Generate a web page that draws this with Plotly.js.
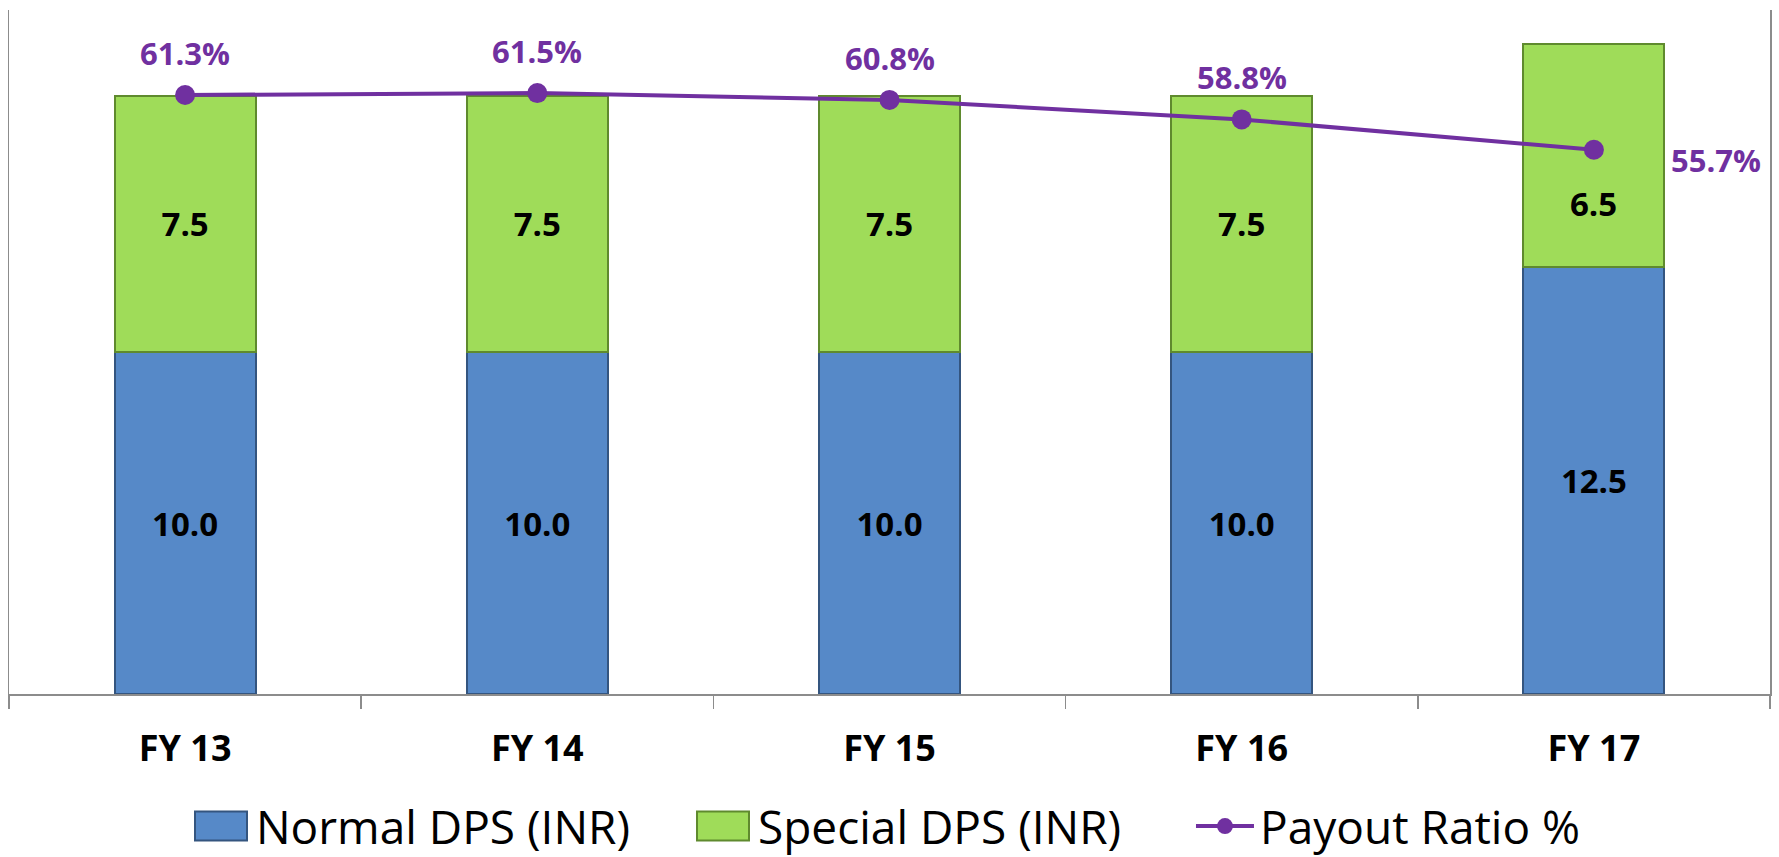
<!DOCTYPE html>
<html>
<head>
<meta charset="utf-8">
<script src="https://cdn.plot.ly/plotly-3.0.1.min.js"></script>
<style>
  html, body { margin: 0; padding: 0; background: #ffffff; }
  #chart { width: 1779px; height: 857px; }
</style>
</head>
<body>
<div id="chart"></div>
<script>
// ---- data ----
const categories = ["FY 13", "FY 14", "FY 15", "FY 16", "FY 17"];
const normalDPS  = [10.0, 10.0, 10.0, 10.0, 12.5];
const specialDPS = [7.5, 7.5, 7.5, 7.5, 6.5];
const payoutRatio = [0.613, 0.615, 0.608, 0.588, 0.557];

const seriesNames = ["Normal DPS (INR)", "Special DPS (INR)", "Payout Ratio %"];

// ---- styling ----
const FONT = "'Open Sans', 'DejaVu Sans', sans-serif";
const BLUE = "#5689C8", GREEN = "#9FDC59", PURPLE = "#7030A0", AXIS = "#8c8c8c";

const fmt1 = v => v.toFixed(1);
const fmtPct = v => (v * 100).toFixed(1) + "%";

const traces = [
  {
    type: "bar", name: seriesNames[0], x: categories, y: normalDPS,
    marker: { color: BLUE, line: { color: "#34557f", width: 2 } },
    text: normalDPS.map(fmt1), textposition: "inside", insidetextanchor: "middle",
    textangle: 0, constraintext: "none",
    textfont: { family: FONT, size: 33, color: "#000000", weight: "bold" },
    hoverinfo: "skip"
  },
  {
    type: "bar", name: seriesNames[1], x: categories, y: specialDPS,
    marker: { color: GREEN, line: { color: "#5f8a2e", width: 2 } },
    text: specialDPS.map(fmt1),
    textposition: specialDPS.map((v, i) => i === specialDPS.length - 1 ? "none" : "inside"),
    insidetextanchor: "middle", textangle: 0, constraintext: "none",
    textfont: { family: FONT, size: 33, color: "#000000", weight: "bold" },
    hoverinfo: "skip"
  },
  {
    type: "scatter", mode: "lines+markers", name: seriesNames[2], x: categories, y: payoutRatio,
    yaxis: "y2",
    line: { color: PURPLE, width: 4 },
    marker: { color: PURPLE, size: 20 },
    hoverinfo: "skip"
  }
];

const annotations = payoutRatio.map((v, i) => {
  const last = i === payoutRatio.length - 1;
  return {
    x: categories[i], y: v, xref: "x", yref: "y2",
    text: fmtPct(v), showarrow: false,
    xanchor: "center", yanchor: "middle",
    xshift: last ? 122 : 0, yshift: last ? -10 : 42,
    font: { family: FONT, size: 31, color: PURPLE, weight: "bold" }
  };
});
{
  const i = specialDPS.length - 1;
  annotations.push({
    x: categories[i], y: normalDPS[i] + specialDPS[i] / 2, xref: "x", yref: "y",
    text: fmt1(specialDPS[i]), showarrow: false, xanchor: "center", yanchor: "middle",
    yshift: -48,
    font: { family: FONT, size: 33, color: "#000000", weight: "bold" }
  });
}

const layout = {
  width: 1779, height: 857,
  margin: { l: 9, r: 9, t: 10, b: 163, pad: 0 },
  paper_bgcolor: "#ffffff", plot_bgcolor: "#ffffff",
  barmode: "stack", bargap: 0.6,
  showlegend: true,
  font: { family: FONT, color: "#000000" },
  xaxis: {
    type: "category",
    showline: true, linecolor: AXIS, linewidth: 1.5,
    ticks: "outside", tickson: "boundaries", ticklen: 13, tickcolor: AXIS, tickwidth: 1.5,
    tickfont: { family: FONT, size: 36, color: "#000000", weight: "bold" },
    ticklabelstandoff: 22,
    showgrid: false, zeroline: false
  },
  yaxis: {
    range: [0, 20], showline: true, linecolor: AXIS, linewidth: 1.5,
    showticklabels: false, ticks: "", showgrid: false, zeroline: false
  },
  yaxis2: {
    range: [0, 0.7], overlaying: "y", side: "right",
    showline: true, linecolor: AXIS, linewidth: 1.5,
    showticklabels: false, ticks: "", showgrid: false, zeroline: false
  },
  legend: {
    orientation: "h", x: 0.1005, xanchor: "left",
    yref: "container", y: 0.036, yanchor: "middle",
    font: { family: FONT, size: 46, color: "#000000" },
    itemwidth: 60,
    entrywidth: 427, entrywidthmode: "pixels",
    traceorder: "normal", bgcolor: "rgba(0,0,0,0)"
  },
  annotations: annotations
};

// widen the legend symbols like the original (wide bevelled swatches, longer line)
function fixLegend(gd) {
  const groups = gd.querySelectorAll(".legend .traces");
  groups.forEach((tr, k) => {
    const isBar = k < 2;
    if (isBar) {
      tr.querySelectorAll(".legendpoints path").forEach(p => {
        p.setAttribute("d", "M26,14.5H-26V-14.5H26Z");
      });
    } else {
      const pt = tr.querySelector(".legendpoints path");
      const ln = tr.querySelector(".legendlines path");
      if (pt && ln) {
        const m = /translate\(\s*([-\d.]+)/.exec(pt.getAttribute("transform") || "");
        const cx = m ? parseFloat(m[1]) : 30;
        ln.setAttribute("d", "M" + (cx - 29) + ",0h58");
      }
    }
  });
}

Plotly.newPlot("chart", traces, layout, { displayModeBar: false, staticPlot: true }).then(gd => {
  fixLegend(gd);
  gd.on && gd.on("plotly_afterplot", () => fixLegend(gd));
  requestAnimationFrame(() => fixLegend(gd));
});
</script>
</body>
</html>
